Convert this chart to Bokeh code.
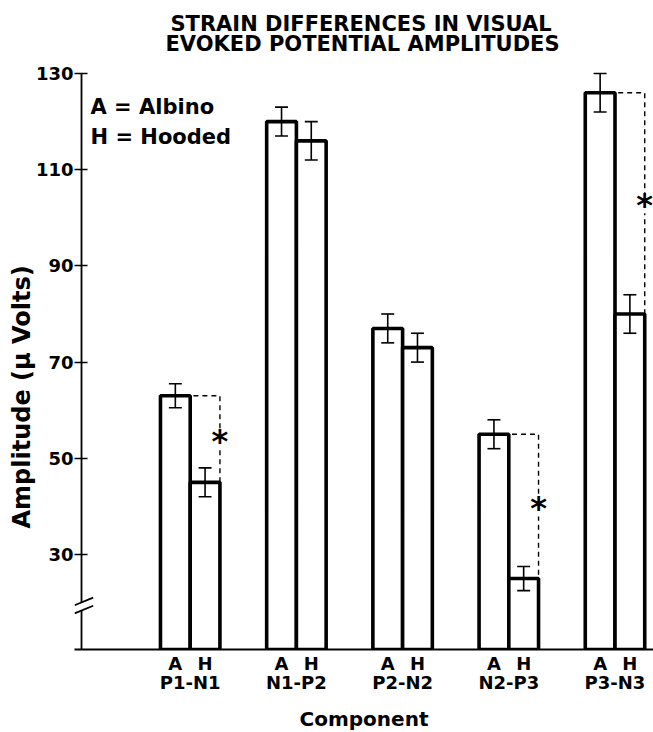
from bokeh.plotting import figure
from bokeh.models import Range1d, FixedTicker, LinearAxis, Title, ColumnDataSource
from bokeh.core.properties import value
from bokeh.embed import file_html
from bokeh.resources import INLINE

# ---------------- data ----------------
groups = ["P1-N1", "N1-P2", "P2-N2", "N2-P3", "P3-N3"]
strains = ["A", "H"]
albino = [63, 120, 77, 55, 126]
hooded = [45, 116, 73, 25, 80]
albino_err = [2.5, 3, 3, 3, 4]
hooded_err = [3, 4, 3, 2.5, 4]
significant = [True, False, False, True, True]
y_ticks = [30, 50, 70, 90, 110, 130]
legend_lines = ["A = Albino", "H = Hooded"]
legend_y = [123.1, 116.7]
title_lines = ["STRAIN DIFFERENCES IN VISUAL", "EVOKED POTENTIAL AMPLITUDES"]
y_label = "Amplitude (\u03bc Volts)"
x_label = "Component"
break_at = 19.4

# ---------------- style ----------------
FONT = "DejaVu Sans"
Y0, Y1 = 10.25, 133.74
X0, X1 = -1.0895, 4.3625
AX = -1.0235          # data x of the drawn y-axis line
OFF, BW = 0.14, 0.28
CAP = 0.061

p = figure(frame_width=579, frame_height=594,
           x_range=Range1d(X0, X1), y_range=Range1d(Y0, Y1),
           output_backend="svg", toolbar_location=None,
           x_axis_location=None, y_axis_location="left",
           min_border_left=74, min_border_right=0,
           min_border_top=55, min_border_bottom=83)
p.grid.visible = False
p.outline_line_color = None
p.background_fill_color = "white"

# y axis (ticks and labels; the line itself is drawn below with a break)
ya = p.yaxis[0]
ya.ticker = FixedTicker(ticks=y_ticks)
ya.axis_line_color = None
ya.minor_tick_line_color = None
ya.major_tick_in = 13
ya.major_tick_out = 0
ya.major_tick_line_width = 1.5
ya.major_label_standoff = 1
ya.major_label_text_font = FONT
ya.major_label_text_font_style = "bold"
ya.major_label_text_font_size = "18px"
ya.major_label_text_color = "black"

# y axis title as a left-side title
p.add_layout(Title(text=y_label, align="left", offset=121, standoff=-6,
                   text_font=FONT, text_font_style="bold", text_font_size="24px",
                   text_color="black"), "left")

# bar positions
bar_x, bar_top, bar_err, bar_lab = [], [], [], []
for i in range(len(groups)):
    for s, vals, errs, sign in ((0, albino, albino_err, -1), (1, hooded, hooded_err, 1)):
        bar_x.append(i + sign * OFF)
        bar_top.append(vals[i])
        bar_err.append(errs[i])
        bar_lab.append(strains[s])

# strain labels axis (also the bottom line)
xa1 = LinearAxis(ticker=FixedTicker(ticks=bar_x),
                 major_label_overrides={x: l for x, l in zip(bar_x, bar_lab)})
xa1.major_tick_line_color = None
xa1.major_tick_in = 0
xa1.major_tick_out = 0
xa1.minor_tick_line_color = None
xa1.minor_tick_in = 0
xa1.minor_tick_out = 0
xa1.axis_line_width = 2.2
xa1.major_label_standoff = 3
xa1.major_label_text_font = FONT
xa1.major_label_text_font_style = "bold"
xa1.major_label_text_font_size = "18px"
xa1.major_label_text_color = "black"
p.add_layout(xa1, "below")

# component labels axis
xa2 = LinearAxis(ticker=FixedTicker(ticks=list(range(len(groups)))),
                 major_label_overrides={i: g for i, g in enumerate(groups)},
                 axis_label=x_label)
xa2.axis_line_color = None
xa2.major_tick_line_color = None
xa2.major_tick_in = 0
xa2.major_tick_out = 0
xa2.minor_tick_line_color = None
xa2.minor_tick_in = 0
xa2.minor_tick_out = 0
xa2.major_label_standoff = -5
xa2.major_label_text_font = FONT
xa2.major_label_text_font_style = "bold"
xa2.major_label_text_font_size = "18px"
xa2.major_label_text_color = "black"
xa2.axis_label_standoff = 11
xa2.axis_label_text_font = FONT
xa2.axis_label_text_font_style = "bold"
xa2.axis_label_text_font_size = "20px"
xa2.axis_label_text_color = "black"
p.add_layout(xa2, "below")

# y-axis line with a break, and the break marks
p.segment(x0=[AX, AX], y0=[Y0, break_at + 0.64], x1=[AX, AX], y1=[break_at - 1.06, y_ticks[-1]],
          line_color="black", line_width=1.8)
p.segment(x0=[AX - 0.065] * 2, y0=[break_at + 0.85 - 0.8, break_at - 0.85 - 0.8],
          x1=[AX + 0.11] * 2, y1=[break_at + 0.85 + 0.8, break_at - 0.85 + 0.8],
          line_color="black", line_width=1.8)

# bars
src = ColumnDataSource(dict(x=bar_x, top=bar_top,
                            lo=[t - e for t, e in zip(bar_top, bar_err)],
                            hi=[t + e for t, e in zip(bar_top, bar_err)],
                            cl=[x - CAP for x in bar_x], cr=[x + CAP for x in bar_x]))
p.vbar(x="x", top="top", bottom=Y0, width=BW, source=src,
       fill_color="white", line_color="black", line_width=3.6)

# error bars
p.segment(x0="x", y0="lo", x1="x", y1="hi", source=src, line_color="black", line_width=1.6)
p.segment(x0="cl", y0="hi", x1="cr", y1="hi", source=src, line_color="black", line_width=1.6)
p.segment(x0="cl", y0="lo", x1="cr", y1="lo", source=src, line_color="black", line_width=1.6)

# significance brackets
xs, ys, ax, ay = [], [], [], []
for i, sig in enumerate(significant):
    if not sig:
        continue
    xr = i + OFF + BW / 2
    xs.append([i - OFF + BW / 2 + 0.03, xr, xr])
    ys.append([albino[i], albino[i], hooded[i]])
    ax.append(xr)
    ay.append((albino[i] + hooded[i]) / 2)
p.multi_line(xs=xs, ys=ys, line_color="black", line_width=1.4, line_dash="5 4")
p.rect(x=ax, y=ay, width=14, height=20, width_units="screen", height_units="screen",
       fill_color="white", line_color=None)
p.text(x=ax, y=ay, text=["*"] * len(ax), text_font=value(FONT), text_font_style="bold",
       text_font_size="32px", text_align="center", text_baseline="alphabetic",
       y_offset=2, text_color="black")

# legend text
p.text(x=[AX + 0.085] * 2, y=legend_y, text=legend_lines, text_font=value(FONT),
       text_font_style="bold", text_font_size="21px", text_baseline="middle",
       text_align="left", text_color="black")

# titles (first added is nearest the frame)
p.add_layout(Title(text=title_lines[1], align="left", offset=91, standoff=0,
                   text_font=FONT, text_font_style="bold", text_font_size="21px",
                   text_color="black"), "above")
p.add_layout(Title(text=title_lines[0], align="left", offset=96, standoff=-12,
                   text_font=FONT, text_font_style="bold", text_font_size="21px",
                   text_color="black"), "above")

open("out.html", "w").write(file_html(p, INLINE))
